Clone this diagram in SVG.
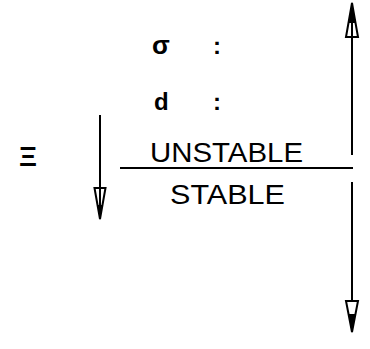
<svg xmlns="http://www.w3.org/2000/svg" width="370" height="349" viewBox="0 0 370 349">
<style>
.lbl{font-family:"Liberation Sans",Arial,sans-serif;fill:#000}
.b{font-weight:bold}
.ln{stroke:#000;stroke-width:2;fill:none}
.head{fill:#fff;stroke:#000;stroke-width:2;stroke-linejoin:miter}
.tip{fill:#000;stroke:none}
</style>
<rect width="370" height="349" fill="#fff"/>
<g id="labels">
<text class="lbl b" x="152" y="54" font-size="26">σ</text>
<text class="lbl b" x="213" y="54" font-size="24">:</text>
<text class="lbl b" x="154" y="110" font-size="24">d</text>
<text class="lbl b" x="213" y="110" font-size="24">:</text>
<text class="lbl b" x="19" y="166" font-size="28" textLength="18" lengthAdjust="spacingAndGlyphs">Ξ</text>
</g>
<g id="unstable"><text class="lbl" x="150" y="162" font-size="28" textLength="153" lengthAdjust="spacingAndGlyphs">UNSTABLE</text></g>
<g id="stable"><text class="lbl" x="170" y="204" font-size="28" textLength="115" lengthAdjust="spacingAndGlyphs">STABLE</text></g>
<g id="connectors">
<line class="ln" x1="120" y1="168" x2="353" y2="168"/>
<line class="ln" x1="100" y1="115" x2="100" y2="212" stroke-width="1.5"/>
<polygon class="head" points="94.5,188 105.5,188 100,219" stroke-width="1.5"/>
<line class="ln" x1="100" y1="188" x2="100" y2="214" stroke-width="1.5"/>
<polygon class="tip" points="97.5,205 102.5,205 100,220"/>
<line class="ln" x1="352" y1="155" x2="352" y2="20"/>
<polygon class="head" points="346,37 358,37 352,3"/>
<polygon class="tip" points="348.5,23 355.5,23 352,2"/>
<line class="ln" x1="352" y1="37" x2="352" y2="20"/>
<line class="ln" x1="352" y1="182" x2="352" y2="318"/>
<polygon class="head" points="346,301 358,301 352,332"/>
<polygon class="tip" points="348.5,314 355.5,314 352,333"/>
</g>
</svg>
